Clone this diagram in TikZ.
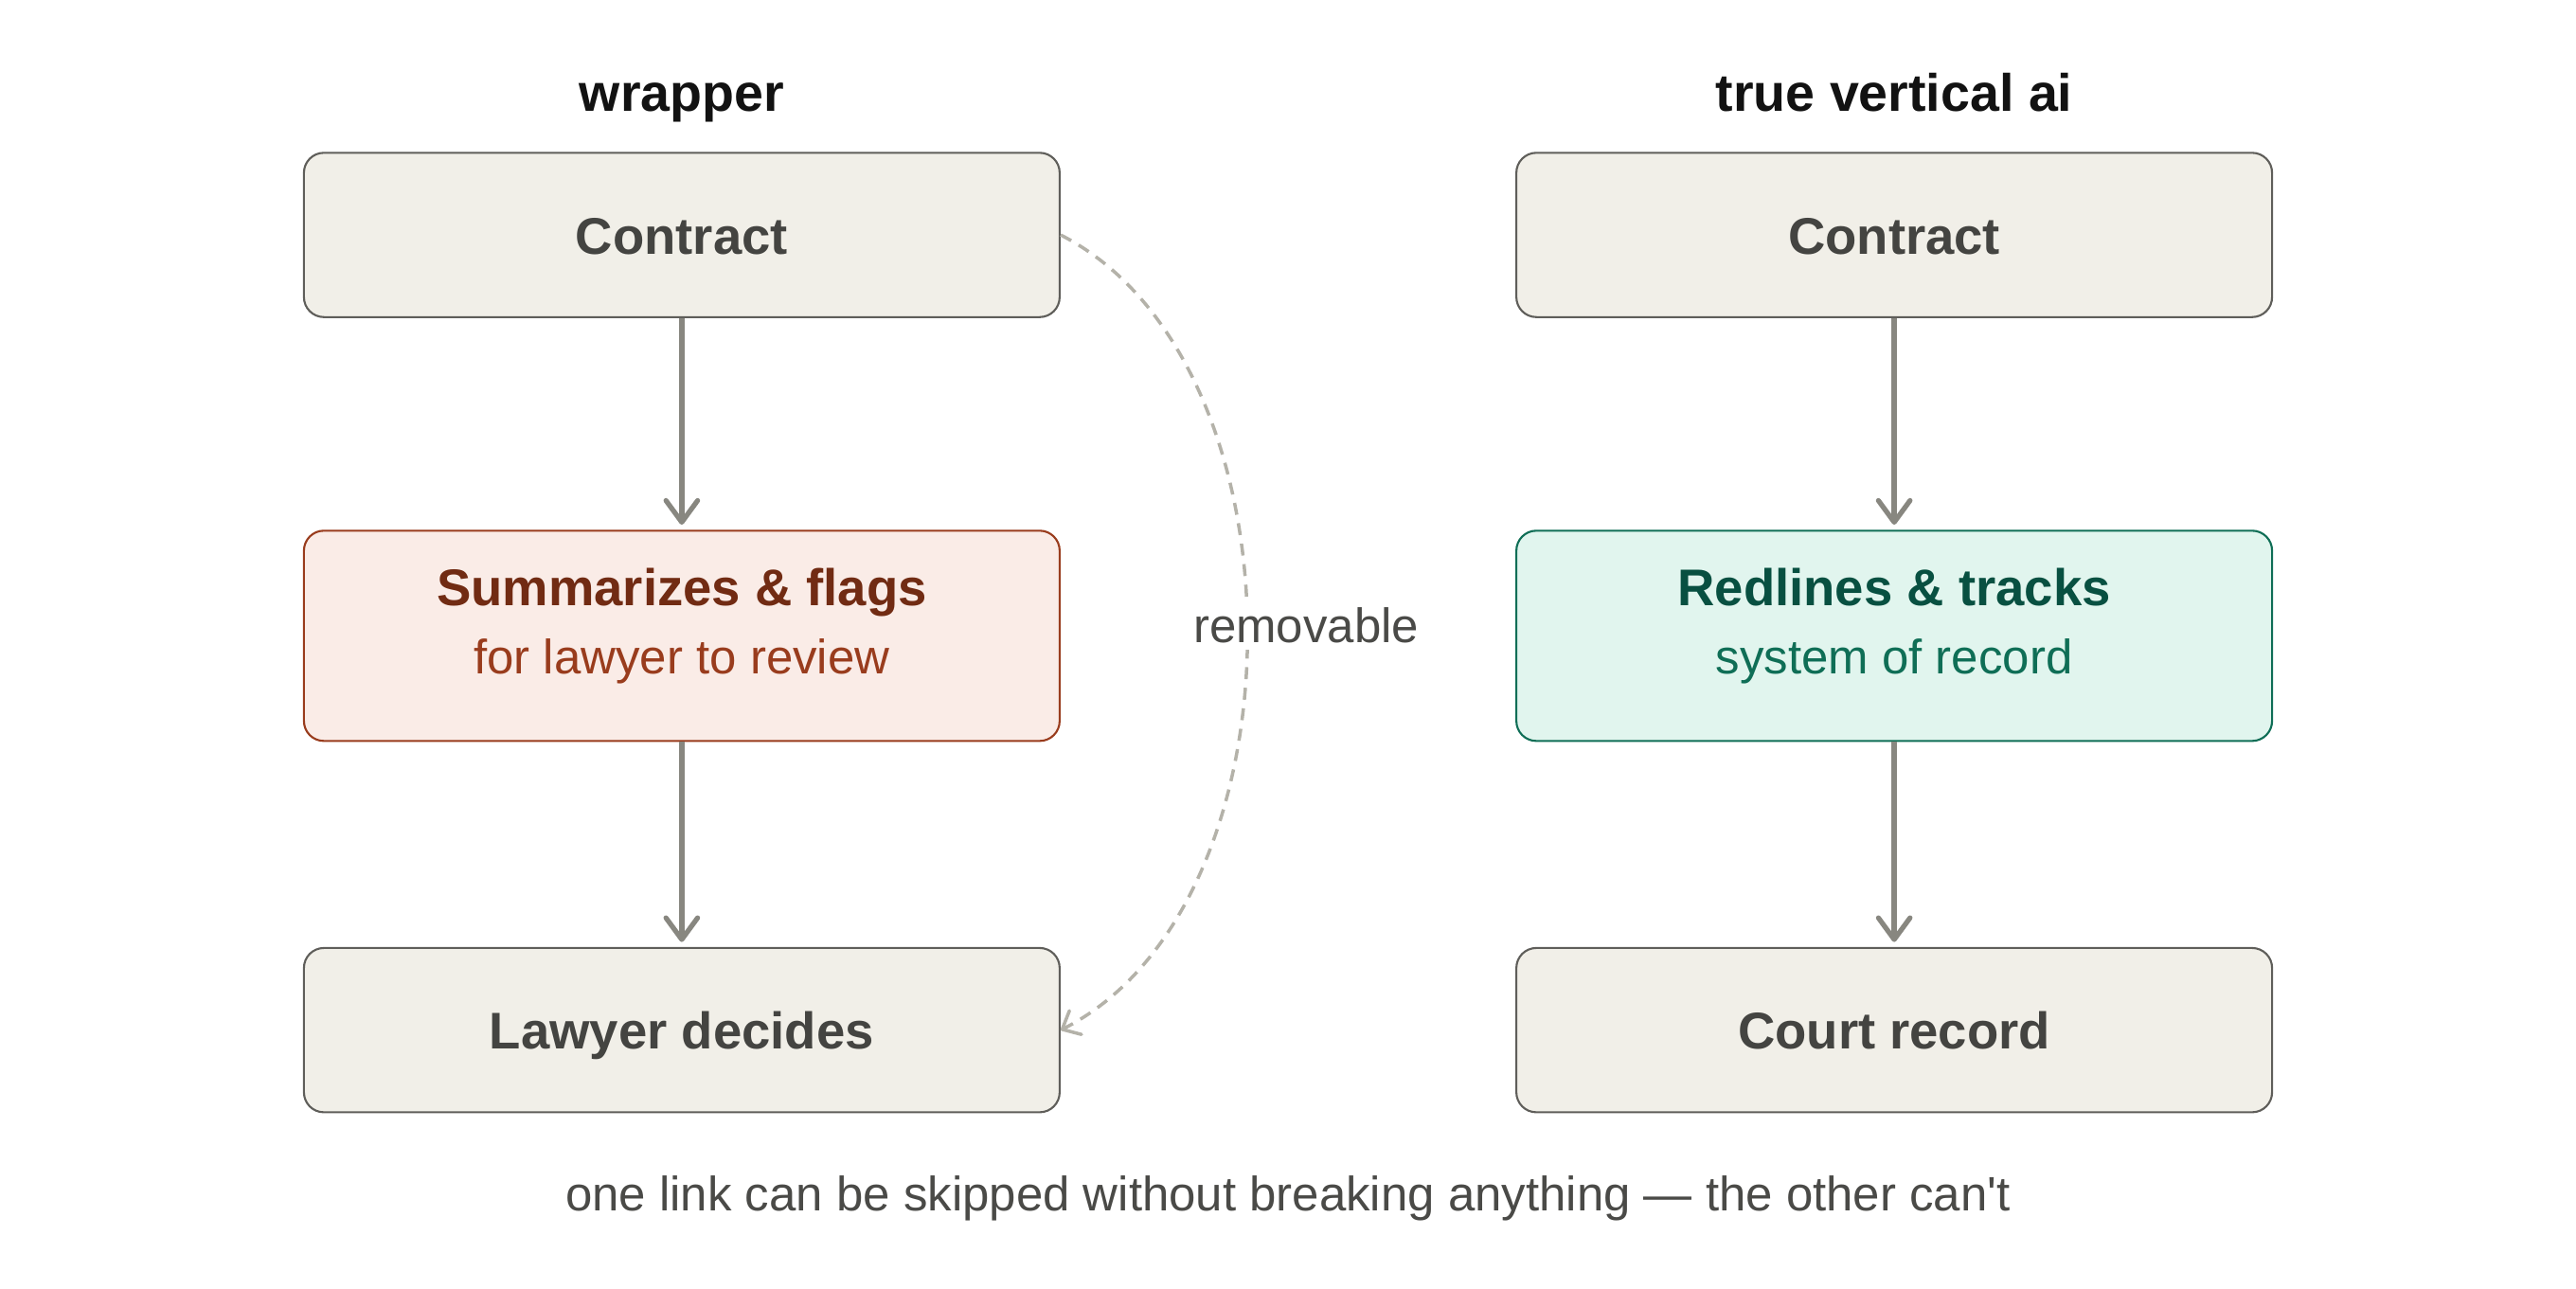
\documentclass[tikz,border=0pt]{standalone}
\usepackage{fontspec}
\setmainfont{Liberation Sans}[Ligatures=TeXOff]
\usetikzlibrary{arrows.meta}
\definecolor{gfill}{HTML}{F1EFE8}
\definecolor{gdraw}{HTML}{5F5E5A}
\definecolor{gtext}{HTML}{444441}
\definecolor{rfill}{HTML}{FAECE7}
\definecolor{rdraw}{HTML}{993C1D}
\definecolor{rhead}{HTML}{712B13}
\definecolor{rsub}{HTML}{993C1D}
\definecolor{efill}{HTML}{E1F5EE}
\definecolor{edraw}{HTML}{0F6E56}
\definecolor{ehead}{HTML}{085041}
\definecolor{esub}{HTML}{0F6E56}
\definecolor{arr}{HTML}{888780}
\definecolor{dash}{HTML}{B4B2A9}
\definecolor{cap}{HTML}{4A4A47}
\tikzset{
  box/.style={draw=gdraw, fill=gfill, line width=0.6pt, rounded corners=6pt,
    minimum width=460*0.4935pt, minimum height=100*0.4935pt, inner sep=0pt},
  tallbox/.style={box, minimum height=128*0.4935pt},
  redbox/.style={tallbox, draw=rdraw, fill=rfill},
  greenbox/.style={tallbox, draw=edraw, fill=efill},
  head/.style={anchor=base, inner sep=0pt, font=\fontsize{15.5}{19}\selectfont\bfseries, text=gtext},
  sub/.style={anchor=base, inner sep=0pt, font=\fontsize{14.5}{17}\selectfont},
  title/.style={anchor=base, inner sep=0pt, font=\fontsize{15.8}{19}\selectfont\bfseries, text=black!93},
  flow/.style={draw=arr, line width=1.5pt, -{Straight Barb[length=6.5pt, width=9.5pt, round]}, shorten >=1.5pt},
  skip/.style={draw=dash, line width=1pt, dash pattern=on 3.6pt off 2.6pt, -{Straight Barb[length=4.5pt, width=8pt, round]}},
  note/.style={anchor=base, font=\fontsize{14.5}{17}\selectfont, text=cap}
}
\begin{document}
\begin{tikzpicture}[x=0.4935pt, y=-0.4935pt]
\useasboundingbox (0,0) rectangle (1568,784);
% titles
\node[title] (t1) at (415,68) {wrapper};
\node[title] (t2) at (1153,68) {true vertical ai};
% boxes
\node[box] (c1) at (415,143) {};
\node[redbox] (s1) at (415,387) {};
\node[box] (l1) at (415,627) {};
\node[box] (c2) at (1153,143) {};
\node[greenbox] (s2) at (1153,387) {};
\node[box] (r2) at (1153,627) {};
% box texts
\node[head] (c1t) at (415,154.5) {Contract};
\node[head, text=rhead] (s1a) at (415,368.5) {Summarizes \& flags};
\node[sub, text=rsub] (s1b) at (415,410) {for lawyer to review};
\node[head] (l1t) at (415,638.5) {Lawyer decides};
\node[head] (c2t) at (1153,154.5) {Contract};
\node[head, text=ehead] (s2a) at (1153,368.5) {Redlines \& tracks};
\node[sub, text=esub] (s2b) at (1153,410) {system of record};
\node[head] (r2t) at (1153,638.5) {Court record};
% arrows
\draw[flow] (c1) -- (s1);
\draw[flow] (s1) -- (l1);
\draw[flow] (c2) -- (s2);
\draw[flow] (s2) -- (r2);
% skip link
\draw[skip] (c1.east) .. controls (797,220) and (797,550) .. (l1.east);
\node[note, fill=white, inner sep=2pt] (rem) at (795,391) {removable};
% caption
\node[note] (capt) at (784,737) {one link can be skipped without breaking anything — the other can't};
\end{tikzpicture}
\end{document}
